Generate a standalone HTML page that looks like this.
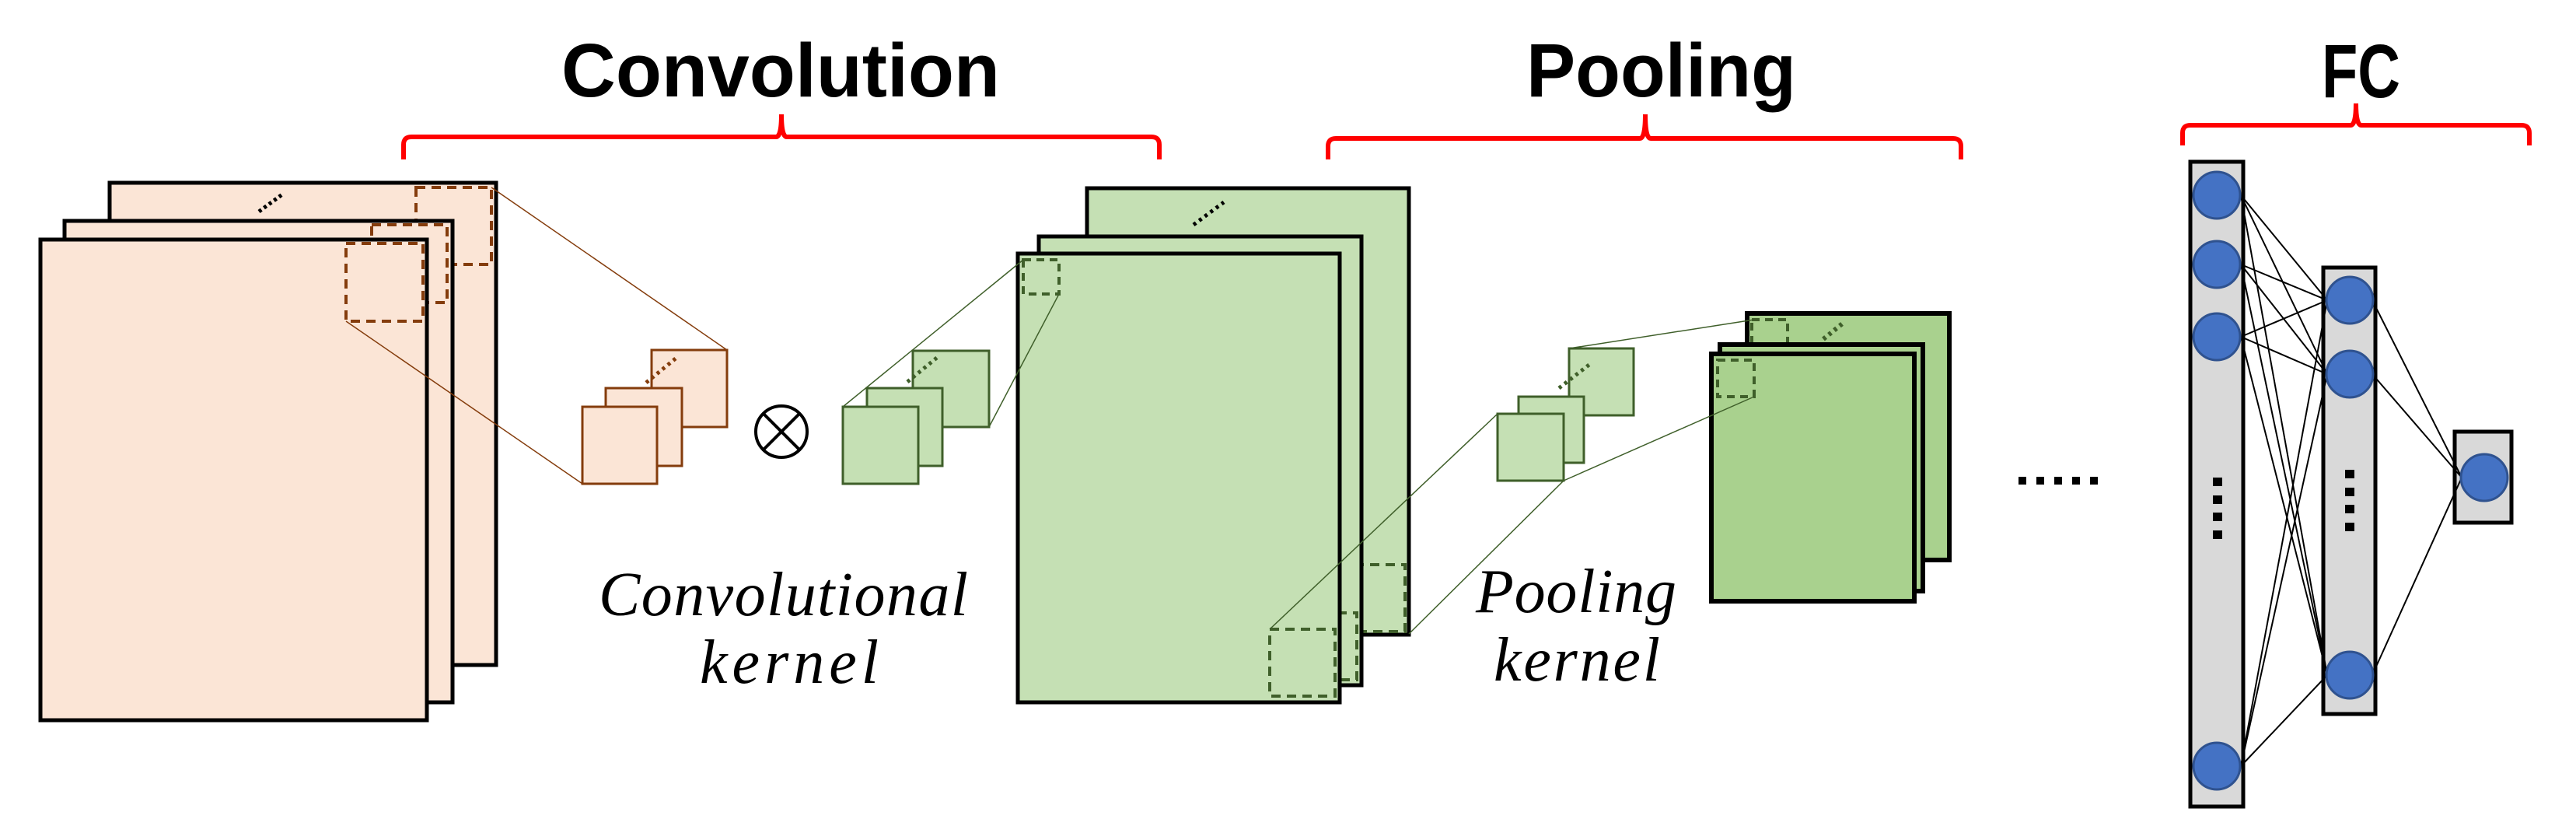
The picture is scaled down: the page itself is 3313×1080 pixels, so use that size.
<!DOCTYPE html>
<html><head><meta charset="utf-8"><style>html,body{margin:0;padding:0;background:#fff}svg{display:block}</style></head>
<body>
<svg width="3313" height="1080" viewBox="0 0 3313 1080" xmlns="http://www.w3.org/2000/svg">
<g font-family="Liberation Sans, sans-serif" font-weight="bold" fill="#000">
<text x="722" y="124" font-size="97" textLength="564" lengthAdjust="spacingAndGlyphs">Convolution</text>
<text x="1963" y="124" font-size="97" textLength="347" lengthAdjust="spacingAndGlyphs">Pooling</text>
<text x="2986" y="125" font-size="97" textLength="101" lengthAdjust="spacingAndGlyphs">FC</text>
</g>
<g fill="none" stroke="#ff0000" stroke-width="6">
<path d="M519,205 L519,186 Q519,176 529,176 L998,176 Q1005,176 1005,147 Q1005,176 1012,176 L1481,176 Q1491,176 1491,186 L1491,205"/>
<path d="M1708,205 L1708,188 Q1708,178 1718,178 L2109,178 Q2116,178 2116,147 Q2116,178 2123,178 L2512,178 Q2522,178 2522,188 L2522,205"/>
<path d="M2807,187 L2807,171 Q2807,161 2817,161 L3023,161 Q3030,161 3030,133 Q3030,161 3037,161 L3243,161 Q3253,161 3253,171 L3253,187"/>
</g>
<rect x="141" y="235" width="497" height="620" fill="#fbe5d6" stroke="#000" stroke-width="5"/>
<rect x="535" y="241" width="97" height="99" fill="none" stroke="#843c0c" stroke-width="4" stroke-dasharray="12,8"/>
<rect x="83" y="284" width="499" height="619" fill="#fbe5d6" stroke="#000" stroke-width="5"/>
<rect x="478" y="289" width="97" height="100" fill="none" stroke="#843c0c" stroke-width="4" stroke-dasharray="12,8"/>
<rect x="52" y="308" width="497" height="618" fill="#fbe5d6" stroke="#000" stroke-width="5"/>
<rect x="445" y="313" width="99" height="100" fill="none" stroke="#843c0c" stroke-width="4" stroke-dasharray="12,8"/>
<line x1="333" y1="272" x2="363" y2="250" stroke="#000" stroke-width="5" stroke-dasharray="4,4"/>
<g fill="#fbe5d6" stroke="#843c0c" stroke-width="3">
<rect x="838" y="450" width="97" height="99"/>
<rect x="779" y="499" width="98" height="100"/>
<rect x="749" y="523" width="96" height="99"/>
</g>
<line x1="831" y1="492" x2="870" y2="460" stroke="#843c0c" stroke-width="5" stroke-dasharray="4,5"/>
<line x1="632" y1="241" x2="935" y2="450" stroke="#843c0c" stroke-width="1.5"/>
<line x1="445" y1="413" x2="749" y2="622" stroke="#843c0c" stroke-width="1.5"/>
<circle cx="1005" cy="555" r="33" fill="none" stroke="#000" stroke-width="4"/>
<line x1="982" y1="532" x2="1028" y2="578" stroke="#000" stroke-width="4"/>
<line x1="1028" y1="532" x2="982" y2="578" stroke="#000" stroke-width="4"/>
<g fill="#c5e0b4" stroke="#3f5f2a" stroke-width="3">
<rect x="1174" y="451" width="98" height="98"/>
<rect x="1115" y="499" width="97" height="100"/>
<rect x="1084" y="523" width="97" height="99"/>
</g>
<line x1="1167" y1="491" x2="1206" y2="459" stroke="#3f5f2a" stroke-width="5" stroke-dasharray="4,5"/>
<rect x="1398" y="242" width="414" height="574" fill="#c5e0b4" stroke="#000" stroke-width="5"/>
<rect x="1722" y="726" width="85" height="86" fill="none" stroke="#3f5f2a" stroke-width="4" stroke-dasharray="12,8"/>
<line x1="1535" y1="289" x2="1574" y2="260" stroke="#000" stroke-width="5" stroke-dasharray="4,5"/>
<rect x="1336" y="304" width="415" height="577" fill="#c5e0b4" stroke="#000" stroke-width="5"/>
<rect x="1660" y="788" width="85" height="86" fill="none" stroke="#3f5f2a" stroke-width="4" stroke-dasharray="12,8"/>
<rect x="1309" y="326" width="414" height="577" fill="#c5e0b4" stroke="#000" stroke-width="5"/>
<rect x="1316" y="334" width="46" height="44" fill="none" stroke="#3f5f2a" stroke-width="4" stroke-dasharray="10,7"/>
<rect x="1633" y="809" width="84" height="86" fill="none" stroke="#3f5f2a" stroke-width="4" stroke-dasharray="12,8"/>
<line x1="1084" y1="523" x2="1316" y2="334" stroke="#3f5f2a" stroke-width="1.5"/>
<line x1="1272" y1="549" x2="1362" y2="378" stroke="#3f5f2a" stroke-width="1.5"/>
<g fill="#c5e0b4" stroke="#3f5f2a" stroke-width="3">
<rect x="2018" y="448" width="83" height="86"/>
<rect x="1953" y="510" width="84" height="85"/>
<rect x="1926" y="532" width="85" height="86"/>
</g>
<line x1="2005" y1="499" x2="2045" y2="468" stroke="#3f5f2a" stroke-width="5" stroke-dasharray="4,5"/>
<line x1="1633" y1="809" x2="1926" y2="532" stroke="#3f5f2a" stroke-width="1.5"/>
<line x1="1812" y1="815" x2="2011" y2="618" stroke="#3f5f2a" stroke-width="1.5"/>
<rect x="2247" y="403" width="260" height="317" fill="#a9d18e" stroke="#000" stroke-width="6"/>
<rect x="2253" y="411" width="46" height="46" fill="none" stroke="#3f5f2a" stroke-width="4" stroke-dasharray="10,7"/>
<line x1="2345" y1="436" x2="2372" y2="414" stroke="#3f5f2a" stroke-width="6" stroke-dasharray="4,5"/>
<rect x="2212" y="443" width="261" height="317" fill="#a9d18e" stroke="#000" stroke-width="6"/>
<rect x="2201" y="455" width="261" height="318" fill="#a9d18e" stroke="#000" stroke-width="6"/>
<rect x="2209" y="463" width="47" height="47" fill="none" stroke="#3f5f2a" stroke-width="4" stroke-dasharray="10,7"/>
<line x1="2011" y1="618" x2="2256" y2="510" stroke="#3f5f2a" stroke-width="1.5"/>
<line x1="2018" y1="448" x2="2256" y2="411" stroke="#3f5f2a" stroke-width="1.5"/>
<line x1="2596" y1="618" x2="2705" y2="618" stroke="#000" stroke-width="10" stroke-dasharray="10,13"/>
<g font-family="Liberation Serif, serif" font-style="italic" font-size="80" fill="#000">
<text x="770" y="791" textLength="475" lengthAdjust="spacing">Convolutional</text>
<text x="900" y="878" textLength="230" lengthAdjust="spacing">kernel</text>
<text x="1898" y="787" textLength="258" lengthAdjust="spacing">Pooling</text>
<text x="1921" y="875" textLength="214" lengthAdjust="spacing">kernel</text>
</g>
<rect x="2817" y="208" width="68" height="829" fill="#d9d9d9" stroke="#000" stroke-width="5"/>
<rect x="2988" y="344" width="67" height="574" fill="#d9d9d9" stroke="#000" stroke-width="5"/>
<rect x="3157" y="555" width="73" height="117" fill="#d9d9d9" stroke="#000" stroke-width="5"/>
<g stroke="#000" stroke-width="2">
<line x1="2882" y1="251" x2="2993" y2="386"/><line x1="2882" y1="251" x2="2993" y2="481"/><line x1="2882" y1="251" x2="2993" y2="868"/>
<line x1="2882" y1="340" x2="2993" y2="386"/><line x1="2882" y1="340" x2="2993" y2="481"/><line x1="2882" y1="340" x2="2993" y2="868"/>
<line x1="2882" y1="433" x2="2993" y2="386"/><line x1="2882" y1="433" x2="2993" y2="481"/><line x1="2882" y1="433" x2="2993" y2="868"/>
<line x1="2882" y1="985" x2="2993" y2="386"/><line x1="2882" y1="985" x2="2993" y2="481"/><line x1="2882" y1="985" x2="2993" y2="868"/>
<line x1="3051" y1="386" x2="3166" y2="614"/><line x1="3051" y1="481" x2="3166" y2="614"/><line x1="3051" y1="868" x2="3166" y2="614"/>
</g>
<g fill="#4472c4" stroke="#2f528f" stroke-width="3">
<ellipse cx="2851" cy="251" rx="30" ry="30"/>
<ellipse cx="2851" cy="340" rx="30" ry="30"/>
<ellipse cx="2851" cy="433" rx="30" ry="30"/>
<ellipse cx="2851" cy="985" rx="30" ry="30"/>
<ellipse cx="3022" cy="386" rx="30" ry="30"/>
<ellipse cx="3022" cy="481" rx="30" ry="30"/>
<ellipse cx="3022" cy="868" rx="30" ry="30"/>
<ellipse cx="3195" cy="614" rx="30" ry="30"/>
</g>
<g fill="#000">
<rect x="2846" y="614" width="12" height="11"/><rect x="2846" y="637" width="12" height="11"/><rect x="2846" y="659" width="12" height="11"/><rect x="2846" y="682" width="12" height="11"/>
<rect x="3016" y="604" width="12" height="11"/><rect x="3016" y="627" width="12" height="11"/><rect x="3016" y="649" width="12" height="11"/><rect x="3016" y="672" width="12" height="11"/>
</g>
</svg>
</body></html>
